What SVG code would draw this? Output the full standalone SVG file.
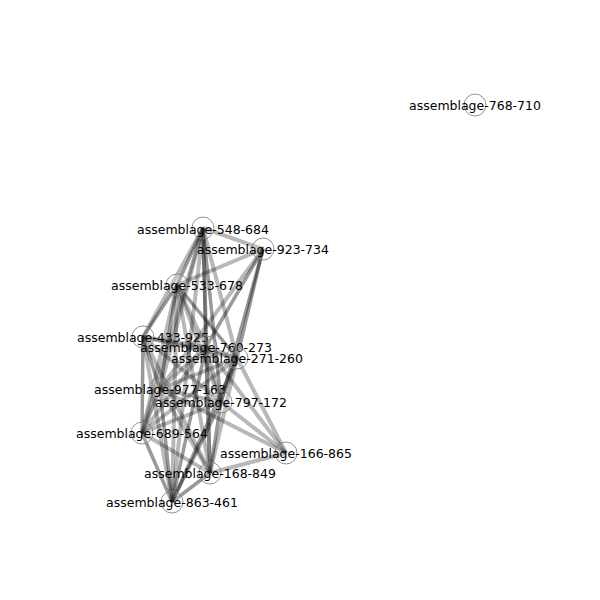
<svg xmlns="http://www.w3.org/2000/svg" width="600" height="600" viewBox="0 0 600 600">
<style>
.e{stroke:#000;stroke-opacity:0.28;stroke-width:4;fill:none}
.e2{stroke:#000;stroke-opacity:0.4;stroke-width:3.5;fill:none}
.n circle{fill:#fff;fill-opacity:0.15;stroke:#777;stroke-opacity:0.8;stroke-width:1}
.n text{font-family:"DejaVu Sans",sans-serif;font-size:12.5px;fill:#000;text-anchor:middle;dominant-baseline:central}
</style>
<rect width="600" height="600" fill="#fff"/>
<g id="edges">
<line class="e" x1="263" y1="249" x2="203" y2="228"/>
<line class="e" x1="263" y1="249" x2="177" y2="285"/>
<line class="e2" x1="263" y1="249" x2="206" y2="347"/>
<line class="e2" x1="263" y1="249" x2="237" y2="358"/>
<line class="e2" x1="263" y1="249" x2="221" y2="402"/>
<line class="e" x1="263" y1="249" x2="160" y2="389"/>
<line class="e" x1="286" y1="453" x2="237" y2="358"/>
<line class="e" x1="286" y1="453" x2="221" y2="402"/>
<line class="e" x1="286" y1="453" x2="210" y2="473"/>
<line class="e" x1="286" y1="453" x2="206" y2="347"/>
<line class="e" x1="286" y1="453" x2="160" y2="389"/>
<line class="e2" x1="203" y1="228" x2="177" y2="285"/>
<line class="e" x1="203" y1="228" x2="143" y2="337"/>
<line class="e2" x1="203" y1="228" x2="206" y2="347"/>
<line class="e" x1="203" y1="228" x2="237" y2="358"/>
<line class="e" x1="203" y1="228" x2="160" y2="389"/>
<line class="e2" x1="203" y1="228" x2="221" y2="402"/>
<line class="e" x1="203" y1="228" x2="142" y2="433"/>
<line class="e" x1="203" y1="228" x2="210" y2="473"/>
<line class="e" x1="203" y1="228" x2="172" y2="502"/>
<line class="e2" x1="177" y1="285" x2="143" y2="337"/>
<line class="e" x1="177" y1="285" x2="206" y2="347"/>
<line class="e2" x1="177" y1="285" x2="237" y2="358"/>
<line class="e2" x1="177" y1="285" x2="160" y2="389"/>
<line class="e" x1="177" y1="285" x2="221" y2="402"/>
<line class="e" x1="177" y1="285" x2="142" y2="433"/>
<line class="e" x1="177" y1="285" x2="210" y2="473"/>
<line class="e" x1="177" y1="285" x2="172" y2="502"/>
<line class="e" x1="143" y1="337" x2="206" y2="347"/>
<line class="e" x1="143" y1="337" x2="237" y2="358"/>
<line class="e2" x1="143" y1="337" x2="160" y2="389"/>
<line class="e" x1="143" y1="337" x2="221" y2="402"/>
<line class="e2" x1="143" y1="337" x2="142" y2="433"/>
<line class="e" x1="143" y1="337" x2="210" y2="473"/>
<line class="e" x1="143" y1="337" x2="172" y2="502"/>
<line class="e" x1="206" y1="347" x2="237" y2="358"/>
<line class="e" x1="206" y1="347" x2="160" y2="389"/>
<line class="e" x1="206" y1="347" x2="221" y2="402"/>
<line class="e" x1="206" y1="347" x2="142" y2="433"/>
<line class="e" x1="206" y1="347" x2="210" y2="473"/>
<line class="e2" x1="206" y1="347" x2="172" y2="502"/>
<line class="e" x1="237" y1="358" x2="160" y2="389"/>
<line class="e2" x1="237" y1="358" x2="221" y2="402"/>
<line class="e" x1="237" y1="358" x2="142" y2="433"/>
<line class="e" x1="237" y1="358" x2="210" y2="473"/>
<line class="e2" x1="237" y1="358" x2="172" y2="502"/>
<line class="e" x1="160" y1="389" x2="221" y2="402"/>
<line class="e2" x1="160" y1="389" x2="142" y2="433"/>
<line class="e" x1="160" y1="389" x2="210" y2="473"/>
<line class="e2" x1="160" y1="389" x2="172" y2="502"/>
<line class="e" x1="221" y1="402" x2="142" y2="433"/>
<line class="e2" x1="221" y1="402" x2="210" y2="473"/>
<line class="e2" x1="221" y1="402" x2="172" y2="502"/>
<line class="e" x1="142" y1="433" x2="210" y2="473"/>
<line class="e2" x1="142" y1="433" x2="172" y2="502"/>
<line class="e2" x1="210" y1="473" x2="172" y2="502"/>
</g>
<g id="n768-710" class="n"><circle cx="475" cy="105" r="11"/><text x="475" y="105">assemblage-768-710</text></g>
<g id="n548-684" class="n"><circle cx="203" cy="228" r="11"/><text x="203" y="229">assemblage-548-684</text></g>
<g id="n923-734" class="n"><circle cx="263" cy="249" r="11"/><text x="263" y="249">assemblage-923-734</text></g>
<g id="n533-678" class="n"><circle cx="177" cy="285" r="11"/><text x="177" y="285">assemblage-533-678</text></g>
<g id="n433-925" class="n"><circle cx="143" cy="337" r="11"/><text x="143" y="337">assemblage-433-925</text></g>
<g id="n760-273" class="n"><circle cx="206" cy="347" r="11"/><text x="206" y="347">assemblage-760-273</text></g>
<g id="n271-260" class="n"><circle cx="237" cy="358" r="11"/><text x="237" y="358">assemblage-271-260</text></g>
<g id="n977-163" class="n"><circle cx="160" cy="389" r="11"/><text x="160" y="389">assemblage-977-163</text></g>
<g id="n797-172" class="n"><circle cx="221" cy="402" r="11"/><text x="221" y="402">assemblage-797-172</text></g>
<g id="n689-564" class="n"><circle cx="142" cy="433" r="11"/><text x="142" y="433">assemblage-689-564</text></g>
<g id="n166-865" class="n"><circle cx="286" cy="453" r="11"/><text x="286" y="453">assemblage-166-865</text></g>
<g id="n168-849" class="n"><circle cx="210" cy="473" r="11"/><text x="210" y="473">assemblage-168-849</text></g>
<g id="n863-461" class="n"><circle cx="172" cy="502" r="11"/><text x="172" y="502">assemblage-863-461</text></g>
</svg>
